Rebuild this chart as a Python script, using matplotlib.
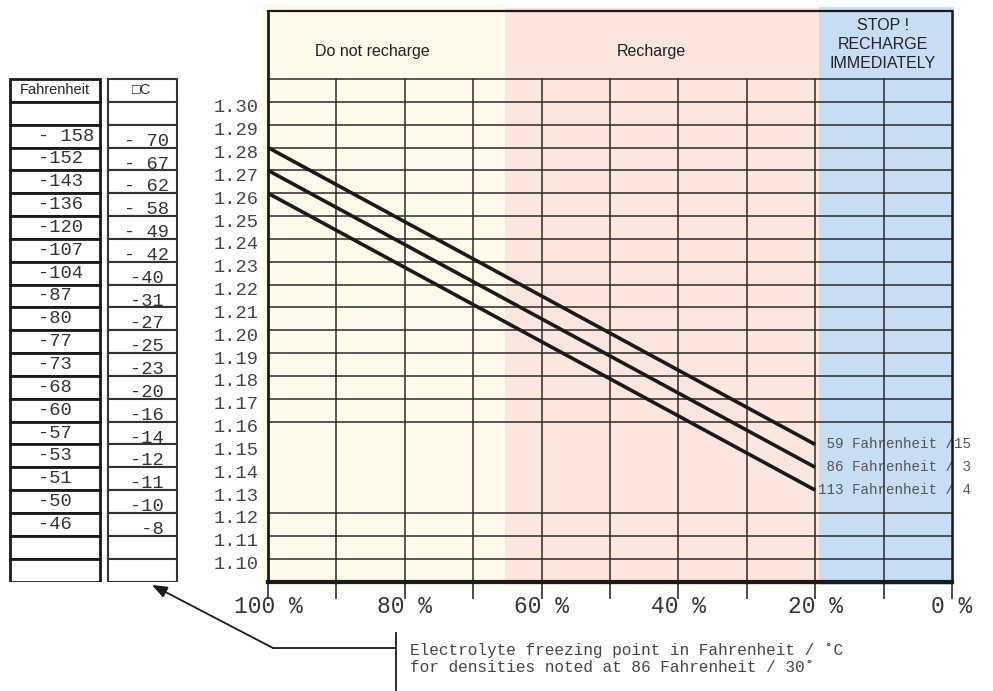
import matplotlib
matplotlib.use("Agg")
import matplotlib.pyplot as plt
from matplotlib.patches import Rectangle
from matplotlib.transforms import ScaledTranslation

# ---------------- data ----------------
charge_pct = [100, 20]
density_59F = [1.28, 1.15]
density_86F = [1.27, 1.14]
density_113F = [1.26, 1.13]
series_labels = [" 59 Fahrenheit /15", " 86 Fahrenheit / 3", "113 Fahrenheit / 4"]

zone_edges = [100, 65.4, 19.5, 0]
zone_names = ["Do not recharge", "Recharge", "STOP !\nRECHARGE\nIMMEDIATELY"]

y_ticks = [1.10, 1.11, 1.12, 1.13, 1.14, 1.15, 1.16, 1.17, 1.18, 1.19, 1.20,
           1.21, 1.22, 1.23, 1.24, 1.25, 1.26, 1.27, 1.28, 1.29, 1.30]
y_tick_labels = ["1.10", "1.11", "1.12", "1.13", "1.14", "1.15", "1.16", "1.17",
                 "1.18", "1.19", "1.20", "1.21", "1.22", "1.23", "1.24", "1.25",
                 "1.26", "1.27", "1.28", "1.29", "1.30"]
h_grid = [1.10, 1.11, 1.12, 1.16, 1.17, 1.18, 1.19, 1.20, 1.21, 1.22, 1.23,
          1.24, 1.25, 1.26, 1.27, 1.28, 1.29, 1.30, 1.31]
x_major = [100, 80, 60, 40, 20, 0]
x_major_labels = ["100 %", "80 %", "60 %", "40 %", "20 %", "0 %"]
x_minor = [90, 70, 50, 30, 10]

freeze_F = ["- 158", "-152", "-143", "-136", "-120", "-107", "-104", "-87", "-80",
            "-77", "-73", "-68", "-60", "-57", "-53", "-51", "-50", "-46"]
freeze_C = ["- 70", "- 67", "- 62", "- 58", "- 49", "- 42", "-40", "-31", "-27",
            "-25", "-23", "-20", "-16", "-14", "-12", "-11", "-10", " -8"]

MONO = "Liberation Mono"
SANS = "Liberation Sans"

W, H = 993, 691
fig = plt.figure(figsize=(W / 100, H / 100), dpi=100)

# main axes in pixel geometry
x0, x1 = 268, 952
ybot, ytop = 581.5, 10.5
ax = fig.add_axes([x0 / W, (H - ybot) / H, (x1 - x0) / W, (ybot - ytop) / H])
ax.set_xlim(100, 0)
ax.set_ylim(1.09, 1.34)
ax.set_facecolor("none")

# zones
zone_colors = ["#FEF9E8", "#FDE6DD", "#C6DDF3"]
zone_tops = [1.3428, 1.3410, 1.3415]
xpad = [0.9, 0, 0]
xpad_r = [0, 0, 0.25]
for i in range(3):
    left = zone_edges[i] + xpad[i]
    right = zone_edges[i + 1] - xpad_r[i]
    ax.add_patch(Rectangle((right, 1.0885), left - right, zone_tops[i] - 1.0885,
                           facecolor=zone_colors[i], edgecolor="none",
                           clip_on=False, zorder=0))

# grid
for y in h_grid:
    ax.plot([100, 0], [y, y], color="#2a2a2a", lw=1.1, zorder=3, clip_on=False)
for x in x_minor + x_major[1:-1]:
    ax.plot([x, x], [1.09, 1.31], color="#2a2a2a", lw=1.1, zorder=3)

# spines
for s in ["left", "right", "top", "bottom"]:
    ax.spines[s].set_color("#1a1a1a")
    ax.spines[s].set_zorder(5)
ax.spines["left"].set_linewidth(2)
ax.spines["right"].set_linewidth(1.8)
ax.spines["top"].set_linewidth(1.6)
ax.spines["bottom"].set_linewidth(3)

# lines
for dens in (density_59F, density_86F, density_113F):
    ax.plot(charge_pct, dens, color="#1a1a1a", lw=2.6, zorder=4,
            solid_capstyle="butt")
for dens, lab in zip((density_59F, density_86F, density_113F), series_labels):
    ax.text(charge_pct[-1] - 0.4, dens[-1], lab, family=MONO, fontsize=10.3,
            color="#555555", ha="left", va="center", zorder=2, clip_on=False)

# ticks
ax.set_xticks(x_major)
ax.set_xticklabels(x_major_labels, family=MONO, fontsize=16.5, color="#333333")
ax.set_xticks(x_minor, minor=True)
ax.tick_params(axis="x", which="both", direction="out", length=12, width=1.1,
               color="#1a1a1a", pad=-2)
ax.set_yticks(y_ticks)
ax.set_yticklabels(y_tick_labels, family=MONO, fontsize=13.5, color="#444444")
ax.tick_params(axis="y", length=0, pad=7)
off = ScaledTranslation(0, -4 / 100, fig.dpi_scale_trans)
for lab in ax.get_yticklabels():
    lab.set_transform(lab.get_transform() + off)

# zone headers
ax.text(84.8, 1.3220, zone_names[0], family=SANS, fontsize=11.5,
        color="#222222", ha="center", va="center", zorder=6)
ax.text(44.0, 1.3220, zone_names[1], family=SANS, fontsize=11.5,
        color="#222222", ha="center", va="center", zorder=6)
ax.text(10.1, 1.3250, zone_names[2], family=SANS, fontsize=11.5,
        color="#222222", ha="center", va="center", linespacing=1.32, zorder=6)

# ---------------- tables ----------------
axt = fig.add_axes([0, (H - ybot) / H, 1, (ybot - ytop) / H])
axt.set_xlim(0, W)
axt.set_ylim(1.09, 1.34)
axt.axis("off")
axt.patch.set_alpha(0)

n_rows = 2 + len(freeze_F) + 2
row_h = 0.01
top = 1.31
colF = (10, 100)
colC = (108, 177)
for (xa, xb), lw, ec in ((colF, 2.0, "#1a1a1a"), (colC, 1.5, "#333333")):
    for r in range(n_rows):
        yt = top - r * row_h
        axt.add_patch(Rectangle((xa, yt - row_h), xb - xa, row_h, facecolor="white",
                                edgecolor=ec, lw=lw, zorder=2))

axt.text(55, top - 0.5 * row_h, "Fahrenheit", family=SANS, fontsize=10.5,
         color="#222222", ha="center", va="center", zorder=3)
axt.text(142, top - 0.5 * row_h, "\u25a1C", family=[SANS, "DejaVu Sans"], fontsize=10.5,
         color="#222222", ha="center", va="center", zorder=3)
for i, (f, c) in enumerate(zip(freeze_F, freeze_C)):
    r = 2 + i
    yt = top - r * row_h
    axt.text(38, yt - 0.5 * row_h, f, family=MONO, fontsize=13.5, color="#333333",
             ha="left", va="center", zorder=3)
    axt.text(147, yt - row_h + 0.0008, c, family=MONO, fontsize=13.5, color="#333333",
             ha="center", va="baseline", zorder=3)

# ---------------- annotation ----------------
axo = fig.add_axes([0, 0, 1, 1])
axo.set_xlim(0, W)
axo.set_ylim(H, 0)
axo.axis("off")
axo.patch.set_alpha(0)
axo.annotate("", xy=(152, 585), xytext=(273, 648),
             arrowprops=dict(arrowstyle="-|>,head_length=0.9,head_width=0.35",
                             color="#1a1a1a", lw=1.3, shrinkA=0, shrinkB=0))
axo.plot([273, 396], [648, 648], color="#1a1a1a", lw=1.3)
axo.plot([396, 396], [633, 691], color="#1a1a1a", lw=1.3)
axo.text(410, 650, "Electrolyte freezing point in Fahrenheit / \u02daC",
         family=MONO, fontsize=11.6, color="#444444", ha="left", va="center")
axo.text(410, 668, "for densities noted at 86 Fahrenheit / 30\u02da",
         family=MONO, fontsize=11.6, color="#444444", ha="left", va="center")

fig.savefig("out.png", dpi=100)
